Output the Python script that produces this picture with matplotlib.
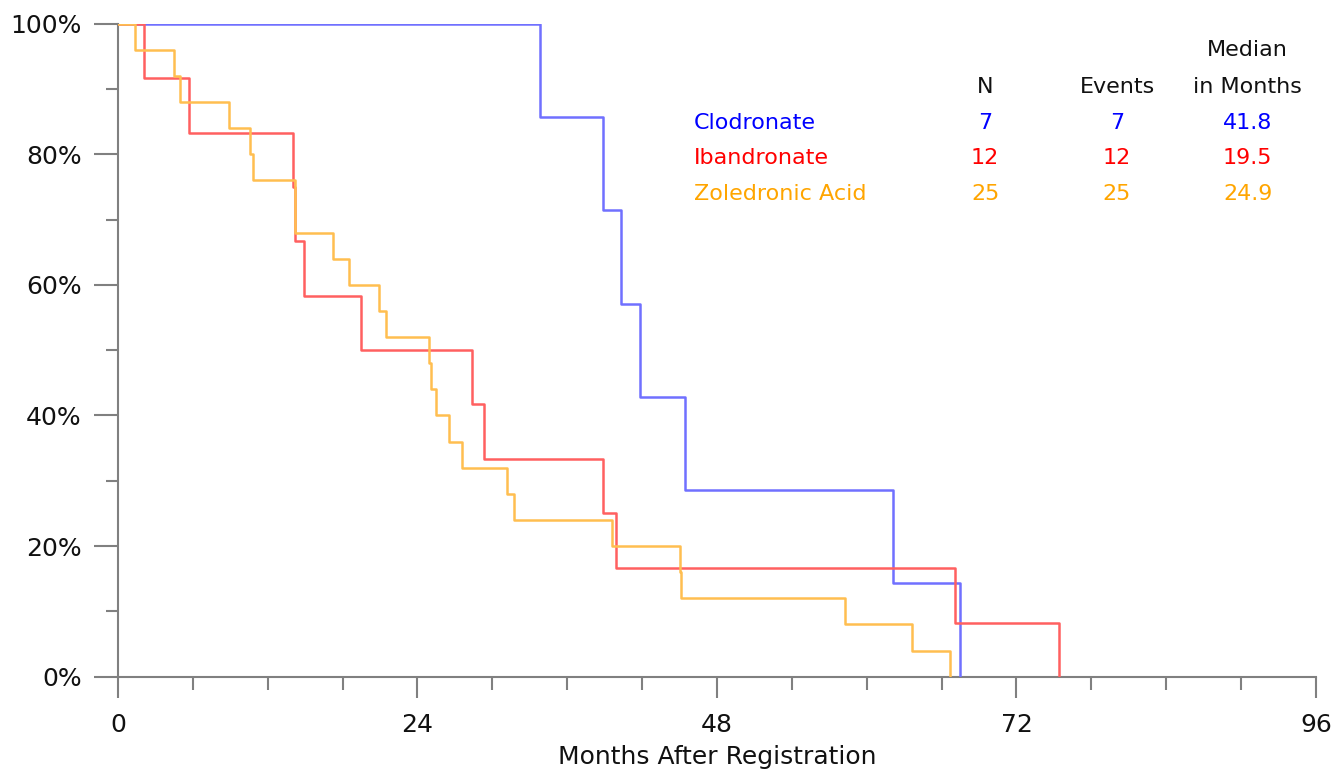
import numpy as np
import matplotlib.pyplot as plt
from matplotlib.ticker import MultipleLocator, FuncFormatter

# Kaplan-Meier steps (months, survival %)
clod_t = [0, 33.8, 38.9, 40.3, 41.8, 45.4, 62.1, 67.5]
clod_s = [100, 85.7, 71.4, 57.1, 42.9, 28.6, 14.3, 0]

iban_t = [0, 2.1, 5.7, 14.0, 14.2, 14.9, 19.5, 28.4, 29.3, 38.9, 39.9, 67.1, 75.4]
iban_s = [100, 91.7, 83.3, 75.0, 66.7, 58.3, 50.0, 41.7, 33.3, 25.0, 16.7, 8.3, 0]

zol_t = [0, 1.4, 4.5, 5.0, 8.9, 10.6, 10.85, 14.2, 17.2, 18.5, 20.9, 21.5, 24.9,
         25.1, 25.45, 26.5, 27.6, 31.2, 31.75, 39.6, 45.0, 45.15, 58.3, 63.6, 66.7]
zol_s = [100, 96, 92, 88, 84, 80, 76, 68, 64, 60, 56, 52, 48,
         44, 40, 36, 32, 28, 24, 20, 16, 12, 8, 4, 0]

groups = ['Clodronate', 'Ibandronate', 'Zoledronic Acid']
n_pat = ['7', '12', '25']
n_events = ['7', '12', '25']
medians = ['41.8', '19.5', '24.9']

text_colors = ['#0000ff', '#ff0000', '#ffa500']
line_colors = ['#7070ff', '#ff6060', '#ffbe50']

fig = plt.figure(figsize=(13.33, 7.74), dpi=100)
ax = fig.add_axes([0.0885, 0.1257, 0.8987, 0.8437])

curves = [(clod_t, clod_s), (iban_t, iban_s), (zol_t, zol_s)]
for (t, s), c in zip(curves, line_colors):
    ax.step(t, s, where='post', color=c, lw=1.8, zorder=3)

ax.set_xlim(0, 96)
ax.set_ylim(0, 100)
ax.xaxis.set_major_locator(MultipleLocator(24))
ax.xaxis.set_minor_locator(MultipleLocator(6))
ax.yaxis.set_major_locator(MultipleLocator(20))
ax.yaxis.set_minor_locator(MultipleLocator(10))
ax.yaxis.set_major_formatter(FuncFormatter(lambda y, _: f'{y:.0f}%'))

for side in ['top', 'right']:
    ax.spines[side].set_visible(False)
for side in ['left', 'bottom']:
    ax.spines[side].set_color('#808080')
    ax.spines[side].set_linewidth(1.5)
    ax.spines[side].set_clip_on(False)

ax.tick_params(axis='both', which='both', color='#808080', width=1.5, labelsize=18,
               labelcolor='#111111')
ax.tick_params(axis='x', which='major', length=15, pad=11)
ax.tick_params(axis='x', which='minor', length=9)
ax.tick_params(axis='y', which='major', length=17, pad=9)
ax.tick_params(axis='y', which='minor', length=9)

ax.set_xlabel('Months After Registration', fontsize=18, labelpad=6, color='#111111')

# summary table in the upper right
col_name = 0.5206
col_n = 0.739
col_ev = 0.838
col_med = 0.936
fs = 16
fig.text(col_med, 0.935, 'Median', ha='center', va='center', fontsize=fs, color='#111111')
fig.text(col_n, 0.888, 'N', ha='center', va='center', fontsize=fs, color='#111111')
fig.text(col_ev, 0.888, 'Events', ha='center', va='center', fontsize=fs, color='#111111')
fig.text(col_med, 0.888, 'in Months', ha='center', va='center', fontsize=fs, color='#111111')

row_y = [0.841, 0.796, 0.749]
for i in range(len(groups)):
    c = text_colors[i]
    fig.text(col_name, row_y[i], groups[i], ha='left', va='center', fontsize=fs, color=c)
    fig.text(col_n, row_y[i], n_pat[i], ha='center', va='center', fontsize=fs, color=c)
    fig.text(col_ev, row_y[i], n_events[i], ha='center', va='center', fontsize=fs, color=c)
    fig.text(col_med, row_y[i], medians[i], ha='center', va='center', fontsize=fs, color=c)

fig.savefig('out.png', dpi=100)
